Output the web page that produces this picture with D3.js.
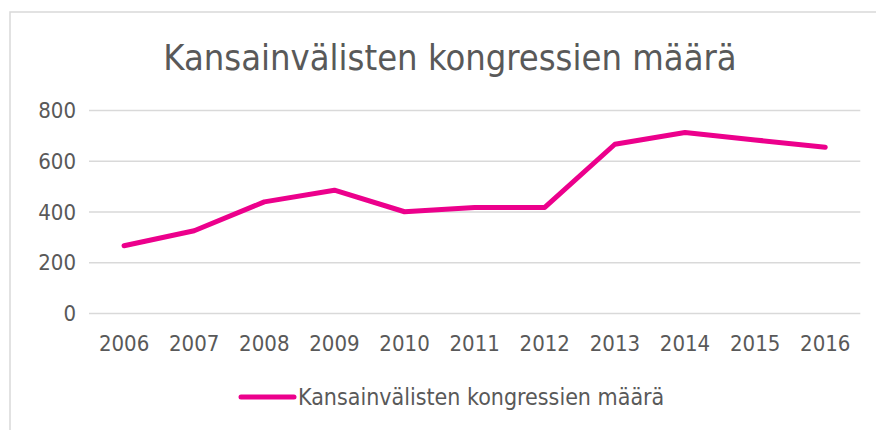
<!DOCTYPE html>
<html>
  <head>
    <meta charset="utf-8">
    <title>Kansainvälisten kongressien määrä</title>
    <style>
      body { margin: 0; background: #fff; }
      svg text { font-family: "DejaVu Sans Condensed", "DejaVu Sans", sans-serif; fill: #595959; }
    </style>
  </head>
  <body>
    <script type="text/javascript" src="https://d3js.org/d3.v7.min.js"></script>
    <script type="text/javascript">
    var years = ["2006", "2007", "2008", "2009", "2010", "2011", "2012", "2013", "2014", "2015", "2016"];
    var congresses = [265, 324, 438, 484, 399, 416, 416, 665, 711, 682, 653];
    var yTicks = [0, 200, 400, 600, 800];
    var title = "Kansainvälisten kongressien määrä";
    var seriesName = "Kansainvälisten kongressien määrä";

    var width = 876,
        height = 430,
        margin = { top: 110, right: 15, bottom: 117, left: 89 };
    var lineColor = "#ec008c";

    var svg = d3.select("body")
      .append("svg")
        .attr("width", width)
        .attr("height", height);

    // chart area border
    svg.append("path")
      .attr("d", "M10," + height + "V12H" + width)
      .attr("fill", "none")
      .attr("stroke", "#d9d9d9")
      .attr("stroke-width", 1.5);

    var x = d3.scaleBand()
      .domain(years)
      .range([margin.left, width - margin.right - 0.7]);

    var y = d3.scaleLinear()
      .domain([0, 800])
      .range([height - margin.bottom, margin.top]);

    svg.append("text")
      .attr("x", 450)
      .attr("y", 70)
      .attr("text-anchor", "middle")
      .style("font-size", "36px")
      .text(title);

    // gridlines
    var yAxis = d3.axisLeft(y)
      .tickValues(yTicks)
      .tickSize(-(x.range()[1] - x.range()[0]))
      .tickPadding(13)
      .tickFormat(d3.format("d"));

    var gy = svg.append("g")
      .attr("transform", "translate(" + margin.left + ",0)")
      .call(yAxis);
    gy.select(".domain").remove();
    gy.selectAll("line").attr("stroke", "#d9d9d9").attr("stroke-width", 1.5);
    gy.selectAll("text").style("font-size", "22px").attr("dy", "0.35em");

    var xAxis = d3.axisBottom(x)
      .tickSize(0)
      .tickPadding(22);
    var gx = svg.append("g")
      .attr("transform", "translate(0," + y(0) + ")")
      .call(xAxis);
    gx.select(".domain").remove();
    gx.selectAll("text").style("font-size", "22px");

    var line = d3.line()
      .x(function(d, i) { return x(years[i]) + x.bandwidth() / 2; })
      .y(function(d) { return y(d); });

    svg.append("path")
      .datum(congresses)
      .attr("d", line)
      .attr("fill", "none")
      .attr("stroke", lineColor)
      .attr("stroke-width", 5)
      .attr("stroke-linejoin", "round")
      .attr("stroke-linecap", "round");

    // legend
    var legend = svg.append("g").attr("transform", "translate(0,397)");
    legend.append("line")
      .attr("x1", 241).attr("x2", 294)
      .attr("y1", 0).attr("y2", 0)
      .attr("stroke", lineColor)
      .attr("stroke-width", 5)
      .attr("stroke-linecap", "round");
    legend.append("text")
      .attr("x", 298)
      .attr("y", 0)
      .attr("dy", "0.35em")
      .style("font-size", "23px")
      .text(seriesName);
    </script>
  </body>
</html>
